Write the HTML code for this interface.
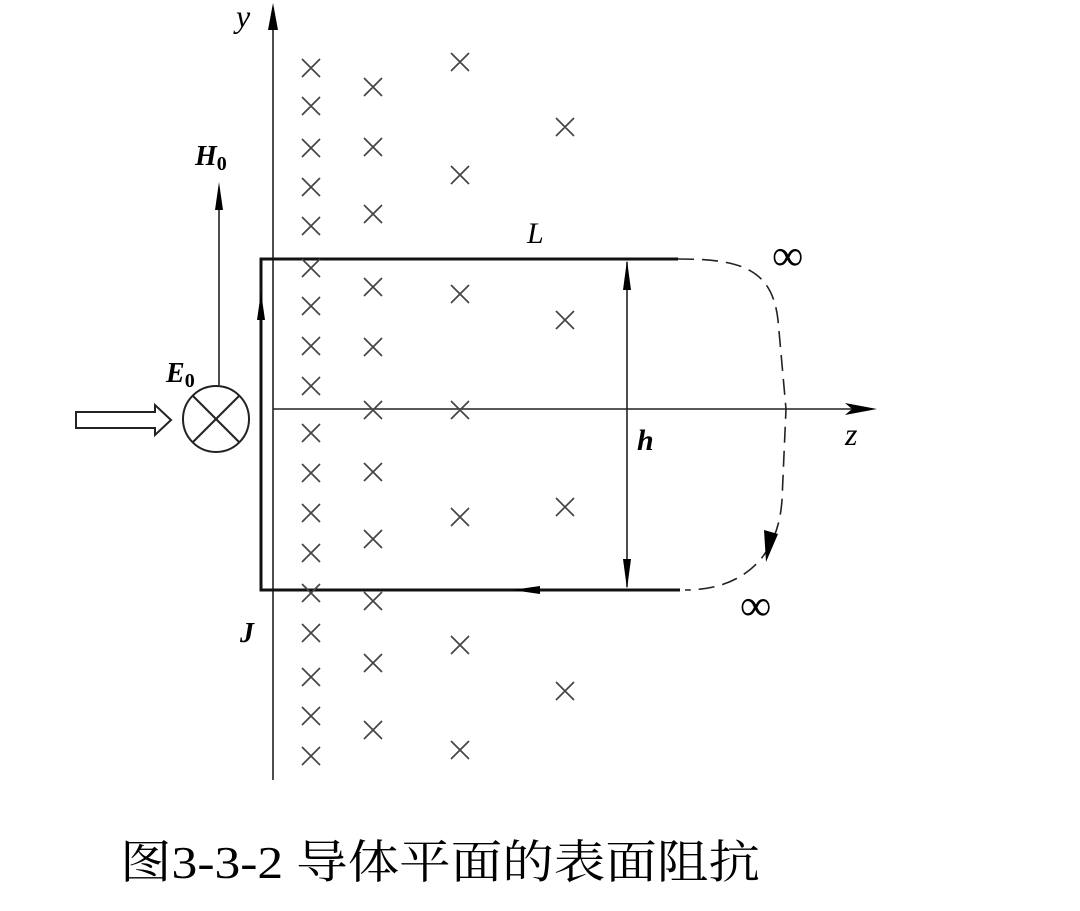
<!DOCTYPE html>
<html><head><meta charset="utf-8"><style>html,body{margin:0;padding:0;background:#fff;width:1080px;height:911px;overflow:hidden}</style></head>
<body>
<svg width="1080" height="911" viewBox="0 0 1080 911" xmlns="http://www.w3.org/2000/svg">
<g stroke="#222" stroke-width="1.6" fill="none">
<line x1="273" y1="780" x2="273" y2="10"/>
<line x1="273" y1="409" x2="860" y2="409"/>
</g>
<path d="M273,3 L268,30 L278,30 z" fill="#000"/>
<path d="M877,409 L845,403 L852,409 L845,415 z" fill="#000"/>
<path d="M678,259 L261,259 L261,590 L680,590" stroke="#111" stroke-width="3" fill="none"/>
<path d="M261,292 L257,320 L265,320 z" fill="#000"/>
<path d="M512,590 L540,586 L540,594 z" fill="#000"/>
<path d="M678,259 C740,259 772,268 778,320 L786,409 L782,500 C778,560 740,590 685,590" stroke="#222" stroke-width="1.6" fill="none" stroke-dasharray="16,8"/>
<path d="M766,562 L764,530 L778,534 z" fill="#000"/>
<line x1="627" y1="262" x2="627" y2="587" stroke="#222" stroke-width="1.6"/>
<path d="M627,260 L623,290 L631,290 z" fill="#000"/>
<path d="M627,589 L623,559 L631,559 z" fill="#000"/>
<line x1="219" y1="385" x2="219" y2="200" stroke="#222" stroke-width="1.6"/>
<path d="M219,182 L215,210 L223,210 z" fill="#000"/>
<circle cx="216" cy="419" r="33" stroke="#222" stroke-width="2" fill="none"/>
<line x1="193" y1="396" x2="239" y2="442" stroke="#222" stroke-width="2"/>
<line x1="239" y1="396" x2="193" y2="442" stroke="#222" stroke-width="2"/>
<path d="M76,412 L155,412 L155,405 L171,420 L155,435 L155,428 L76,428 z" stroke="#222" stroke-width="2" fill="#fff"/>
<path stroke="#444" stroke-width="1.7" fill="none" d="
M302 59l18 18m0-18l-18 18 M302 97l18 18m0-18l-18 18 M302 139l18 18m0-18l-18 18 M302 178l18 18m0-18l-18 18
M302 217l18 18m0-18l-18 18 M302 259l18 18m0-18l-18 18 M302 297l18 18m0-18l-18 18 M302 337l18 18m0-18l-18 18
M302 377l18 18m0-18l-18 18 M302 424l18 18m0-18l-18 18 M302 464l18 18m0-18l-18 18 M302 504l18 18m0-18l-18 18
M302 544l18 18m0-18l-18 18 M302 584l18 18m0-18l-18 18 M302 624l18 18m0-18l-18 18 M302 668l18 18m0-18l-18 18
M302 707l18 18m0-18l-18 18 M302 747l18 18m0-18l-18 18
M364 78l18 18m0-18l-18 18 M364 138l18 18m0-18l-18 18 M364 205l18 18m0-18l-18 18 M364 278l18 18m0-18l-18 18
M364 338l18 18m0-18l-18 18 M364 401l18 18m0-18l-18 18 M364 463l18 18m0-18l-18 18 M364 530l18 18m0-18l-18 18
M364 592l18 18m0-18l-18 18 M364 654l18 18m0-18l-18 18 M364 721l18 18m0-18l-18 18
M451 53l18 18m0-18l-18 18 M451 166l18 18m0-18l-18 18 M451 285l18 18m0-18l-18 18 M451 401l18 18m0-18l-18 18
M451 508l18 18m0-18l-18 18 M451 636l18 18m0-18l-18 18 M451 741l18 18m0-18l-18 18
M556 118l18 18m0-18l-18 18 M556 311l18 18m0-18l-18 18 M556 498l18 18m0-18l-18 18 M556 682l18 18m0-18l-18 18"/>
<g font-family="Liberation Serif, serif" font-style="italic" fill="#000">
<text x="236" y="27" font-size="32">y</text>
<text x="845" y="445" font-size="32">z</text>
<text x="527" y="243" font-size="30">L</text>
<text x="637" y="450" font-size="30" font-weight="bold">h</text>
<text x="195" y="165" font-size="28" font-weight="bold">H<tspan font-style="normal" font-size="20" dy="5">0</tspan></text>
<text x="166" y="382" font-size="28" font-weight="bold">E<tspan font-style="normal" font-size="20" dy="5">0</tspan></text>
<text x="240" y="642" font-size="28" font-weight="bold">J</text>
</g>
<g font-family="Liberation Serif, serif" font-size="44" fill="#000">
<text x="772" y="270">∞</text>
<text x="740" y="620">∞</text>
</g>
<text x="120" y="878" textLength="640" lengthAdjust="spacingAndGlyphs" font-family="Liberation Serif, 'Noto Serif CJK SC', serif" font-size="46" fill="#000">图3-3-2  导体平面的表面阻抗</text>
</svg>
</body></html>
